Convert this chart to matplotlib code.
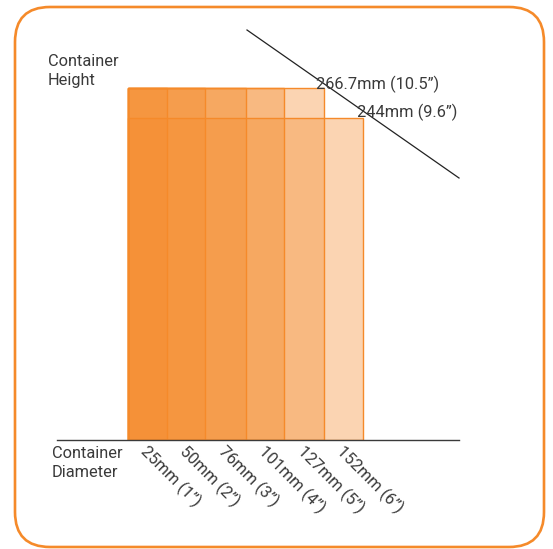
import matplotlib
matplotlib.use("Agg")
import matplotlib.pyplot as plt
from matplotlib.patches import FancyBboxPatch, Rectangle
from matplotlib.lines import Line2D

plt.rcParams['font.family'] = ['Roboto', 'DejaVu Sans']

# Data
diameters_mm = [25, 50, 76, 101, 127, 152]
heights_mm = [266.7, 266.7, 266.7, 266.7, 266.7, 244]
tick_labels = ['25mm (1”)', '50mm (2”)', '76mm (3”)', '101mm (4”)', '127mm (5”)', '152mm (6”)']
height_labels = ['266.7mm (10.5”)', '244mm (9.6”)']

ORANGE = '#F58A2A'
TEXT = '#3a3a3a'
FS = 11.8

W, H = 553, 549
fig = plt.figure(figsize=(W / 100, H / 100), dpi=100)

px_per_mm_x = 235 / 152
px_per_mm_y = 352 / 266.7
ax_left_px, ax_right_px = 57, 459
ax_top_px, ax_bot_px = 30, 440
ax = fig.add_axes([ax_left_px / W, 1 - ax_bot_px / H,
                   (ax_right_px - ax_left_px) / W, (ax_bot_px - ax_top_px) / H])
ax.set_xlim((ax_left_px - 128) / px_per_mm_x, (ax_right_px - 128) / px_per_mm_x)
ax.set_ylim(0, (ax_bot_px - ax_top_px) / px_per_mm_y)
ax.patch.set_alpha(0)
for s in ['top', 'right', 'left']:
    ax.spines[s].set_visible(False)
ax.spines['bottom'].set_color(TEXT)
ax.spines['bottom'].set_linewidth(1.0)
ax.spines['bottom'].set_zorder(5)
ax.set_xticks([])
ax.set_yticks([])

# nested container rectangles
for d, h in sorted(zip(diameters_mm, heights_mm), reverse=True):
    ax.add_patch(Rectangle((0, 0), d, h, facecolor=ORANGE, alpha=0.36,
                           edgecolor='none', zorder=2))
for d, h in zip(diameters_mm, heights_mm):
    ax.add_patch(Rectangle((0, 0), d, h, facecolor='none',
                           edgecolor=ORANGE, linewidth=1.0, zorder=3))

# tick labels
prev = 0
for d, lab in zip(diameters_mm, tick_labels):
    c = (prev + d) / 2
    ax.annotate(lab, xy=(c, 0), xycoords='data', xytext=(2, -3),
                textcoords='offset pixels', rotation=-45, rotation_mode='anchor',
                ha='left', va='top', fontsize=FS, color=TEXT, annotation_clip=False)
    prev = d

# diagonal guide line
fig.add_artist(Line2D([247 / W, 459 / W], [1 - 30 / H, 1 - 178 / H],
                      color='#222222', linewidth=0.9))

fig.text(316 / W, 1 - 84 / H, height_labels[0], fontsize=FS, color=TEXT,
         ha='left', va='center')
fig.text(357 / W, 1 - 112 / H, height_labels[1], fontsize=FS, color=TEXT,
         ha='left', va='center')

fig.text(48 / W, 1 - 71 / H, 'Container\nHeight', fontsize=FS, color=TEXT,
         ha='left', va='center', linespacing=1.38)
fig.text(52 / W, 1 - 463 / H, 'Container\nDiameter', fontsize=FS, color=TEXT,
         ha='left', va='center', linespacing=1.32)

# rounded border
border = FancyBboxPatch((0.15, 0.02), 5.29, 5.40,
                        boxstyle='round,pad=0,rounding_size=0.35',
                        transform=fig.dpi_scale_trans, facecolor='none',
                        edgecolor=ORANGE, linewidth=1.9)
fig.add_artist(border)

fig.savefig('out.png', dpi=100)
